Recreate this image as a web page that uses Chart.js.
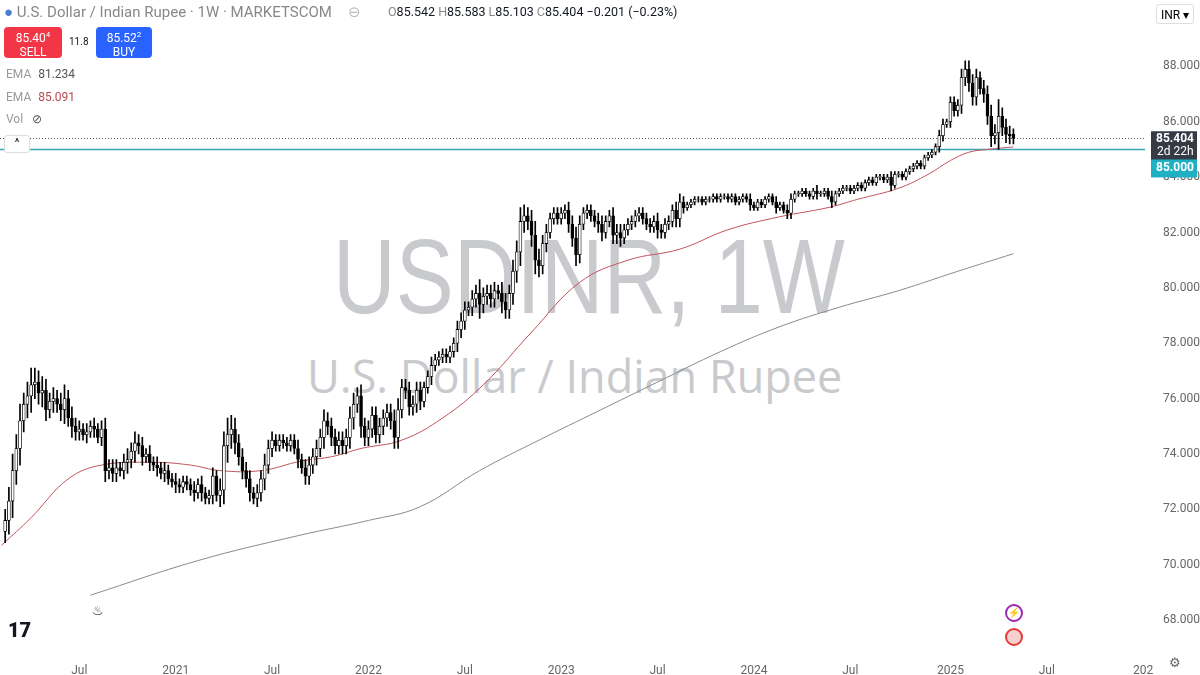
<!DOCTYPE html>
<html><head><meta charset="utf-8">
<script src="https://cdn.jsdelivr.net/npm/chart.js@4"></script>
<style>
body{margin:0;background:#fff;font-family:Roboto,"Noto Sans",sans-serif;}
#wrap{position:relative;width:1200px;height:675px;overflow:hidden;}
#c{position:absolute;left:0;top:0;}
.wm{position:absolute;color:#c9cacd;white-space:nowrap;}
.hd{position:absolute;font-size:13px;white-space:nowrap;}
.btn{position:absolute;border-radius:4px;color:#fff;text-align:center;font-size:12px;line-height:14px;}
</style></head><body>
<div id="wrap">
<div class="wm" style="left:333px;top:218px;font-size:106px;font-family:'Liberation Sans',sans-serif;line-height:1.1;transform:scaleX(0.82);transform-origin:left top;">USDINR, 1W</div>
<div class="wm" style="left:307px;top:345px;font-size:45px;font-family:'Open Sans','Noto Sans',sans-serif;">U.S. Dollar / Indian Rupee</div>
<canvas id="c" width="1200" height="675"></canvas>
<div class="hd" style="left:4px;top:3px;color:#888;font-size:15px;"><span style="color:#4a7fd0">●</span> U.S. Dollar / Indian Rupee · 1W · MARKETSCOM <span style="color:#bbb;margin-left:12px">⊖</span></div>
<div class="hd" style="left:388px;top:4px;color:#131722;font-size:12.5px;"><span style="color:#888">O</span>85.542 <span style="color:#888">H</span>85.583 <span style="color:#888">L</span>85.103 <span style="color:#888">C</span>85.404 −0.201 (−0.23%)</div>
<div class="btn" style="left:4px;top:27px;width:58px;height:30px;background:#f23645;padding-top:1px;">85.40<sup style="font-size:8px">4</sup><br>SELL</div>
<div class="hd" style="left:69px;top:36px;font-size:10px;color:#131722">11.8</div>
<div class="btn" style="left:96px;top:27px;width:56px;height:30px;background:#2962ff;padding-top:1px;">85.52<sup style="font-size:8px">2</sup><br>BUY</div>
<div class="hd" style="left:6px;top:67px;color:#999;font-size:12px;">EMA <span style="color:#555;margin-left:4px">81.234</span></div>
<div class="hd" style="left:6px;top:90px;color:#999;font-size:12px;">EMA <span style="color:#b44a52;margin-left:4px">85.091</span></div>
<div class="hd" style="left:6px;top:112px;color:#999;font-size:12px;">Vol <span style="color:#555;margin-left:6px">⊘</span></div>
<div class="hd" style="left:4px;top:135px;width:24px;height:16px;border:1px solid #ddd;border-radius:3px;text-align:center;font-size:11px;background:#fff;">^</div>
<div class="hd" style="left:1156px;top:4px;width:38px;height:20px;border:1px solid #ddd;border-radius:3px;font-size:12px;line-height:20px;padding-left:4px;box-sizing:border-box;">INR ▾</div>
<div class="hd" style="left:8px;top:618px;font-size:20px;font-weight:900;color:#131722;">17</div>
<div class="hd" style="left:92px;top:603px;font-size:13px;color:#333;">♨</div>
<div class="hd" style="left:1005px;top:604px;width:18px;height:18px;border-radius:9px;border:2px solid #9c27b0;box-sizing:border-box;font-size:10px;color:#9c27b0;text-align:center;line-height:14px;">⚡</div>
<div class="hd" style="left:1005px;top:628px;width:18px;height:18px;border-radius:9px;border:2px solid #e53935;box-sizing:border-box;background:#f5d0d0;"></div>
<div class="hd" style="left:1169px;top:655px;font-size:13px;color:#666;">⚙</div>
</div>
<script>
// weekly candles, week index 0 = first week of 2021
const firstWeek = -46;
const closes = [
71.6,72.3,73.4,74.2,75.2,75.8,76.1,76.5,76.6,76.2,
76.3,75.6,75.9,76.0,75.8,75.6,76.0,75.3,75.0,74.8,
74.9,74.7,74.8,75.0,74.9,74.6,74.9,73.4,73.5,73.3,
73.5,73.4,73.7,73.8,74.1,74.4,74.3,73.9,74.0,73.7,
73.6,73.5,73.3,73.4,73.1,73.0,72.9,72.8,73.0,72.9,
72.7,72.6,72.9,72.6,72.4,72.5,73.2,72.5,72.7,74.3,
74.7,74.9,74.4,73.9,73.4,73.1,72.6,72.4,72.6,73.1,
73.6,74.2,74.5,74.3,74.5,74.4,74.3,74.5,74.2,73.8,
73.5,73.2,73.6,73.9,74.2,74.6,75.2,75.0,74.6,74.3,
74.5,74.3,74.6,75.3,75.8,76.1,75.0,74.6,74.9,75.4,
74.7,75.0,75.3,75.5,75.2,74.6,75.6,76.4,76.3,75.7,
75.8,76.3,75.9,76.4,76.8,77.2,77.4,77.5,77.6,77.5,
77.7,78.0,78.5,78.8,79.2,79.3,79.6,79.8,79.4,79.7,
79.8,79.6,79.9,79.8,79.5,79.2,79.8,80.6,81.3,82.4,
82.6,82.4,81.9,81.0,80.8,81.6,82.0,82.5,82.7,82.5,
82.7,82.8,82.3,81.8,81.2,82.3,82.7,82.8,82.6,82.4,
82.3,82.0,82.4,82.6,81.9,82.0,81.8,82.1,82.3,82.4,
82.6,82.7,82.5,82.3,82.2,82.4,82.1,82.0,82.3,82.4,
82.8,82.5,83.1,82.9,83.0,83.1,83.2,83.2,83.1,83.2,
83.2,83.3,83.2,83.3,83.3,83.2,83.3,83.1,83.2,83.3,
83.2,83.0,82.9,83.1,83.0,83.2,83.3,83.1,82.9,83.0,
82.8,82.7,83.2,83.4,83.4,83.5,83.4,83.3,83.5,83.4,
83.4,83.5,83.3,83.1,83.4,83.5,83.6,83.6,83.5,83.6,
83.7,83.6,83.8,83.9,83.8,84.0,84.0,83.9,84.0,83.7,
84.1,84.1,84.0,84.2,84.3,84.4,84.5,84.4,84.7,84.8,
84.9,85.1,85.5,85.9,86.0,86.7,86.4,86.6,87.6,87.9,
87.4,86.9,87.6,87.2,87.0,86.2,85.5,85.6,86.2,85.8,
85.542,85.5,85.404];
const opens = [71.2].concat(closes.slice(0,-1));
opens[opens.length-1]=85.542;
const wicks = [
0.4,0.5,0.6,0.5,0.6,0.4,0.5,0.6,0.5,0.4,
0.5,0.4,0.3,0.4,0.3,0.4,0.5,0.3,0.4,0.3,
0.3,0.2,0.3,0.2,0.3,0.2,0.3,0.4,0.3,0.3,
0.3,0.2,0.3,0.4,0.3,0.4,0.3,0.3,0.2,0.3,
0.2,0.3,0.2,0.3,0.2,0.2,0.3,0.2,0.2,0.2,
0.2,0.3,0.2,0.3,0.2,0.2,0.3,0.2,0.4,0.5,
0.6,0.5,0.4,0.3,0.3,0.3,0.3,0.2,0.3,0.3,
0.4,0.3,0.3,0.2,0.2,0.2,0.2,0.2,0.2,0.3,
0.2,0.3,0.3,0.3,0.3,0.3,0.4,0.3,0.3,0.3,
0.3,0.3,0.3,0.4,0.4,0.3,0.4,0.3,0.3,0.3,
0.3,0.3,0.3,0.3,0.3,0.4,0.4,0.3,0.3,0.3,
0.3,0.3,0.3,0.2,0.2,0.3,0.2,0.2,0.2,0.2,
0.2,0.2,0.3,0.3,0.3,0.2,0.3,0.3,0.5,0.3,
0.3,0.3,0.3,0.2,0.4,0.3,0.3,0.4,0.4,0.5,
0.4,0.3,0.4,0.5,0.4,0.3,0.3,0.2,0.2,0.2,
0.2,0.2,0.3,0.3,0.4,0.3,0.2,0.2,0.2,0.2,
0.3,0.3,0.2,0.2,0.3,0.3,0.3,0.2,0.2,0.2,
0.2,0.2,0.2,0.2,0.2,0.2,0.3,0.2,0.2,0.2,
0.2,0.3,0.3,0.2,0.1,0.1,0.1,0.1,0.1,0.1,
0.1,0.1,0.1,0.1,0.1,0.1,0.1,0.1,0.1,0.1,
0.1,0.2,0.1,0.1,0.1,0.1,0.1,0.1,0.2,0.1,
0.1,0.2,0.2,0.1,0.1,0.1,0.1,0.1,0.1,0.2,
0.1,0.1,0.1,0.2,0.1,0.1,0.1,0.1,0.1,0.1,
0.1,0.1,0.1,0.1,0.1,0.1,0.1,0.1,0.1,0.2,
0.1,0.1,0.1,0.1,0.1,0.1,0.1,0.1,0.1,0.1,
0.1,0.1,0.2,0.2,0.1,0.2,0.2,0.2,0.3,0.3,
0.3,0.3,0.3,0.2,0.3,0.3,0.4,0.3,0.6,0.3,
0.3,0.3,0.2];
// EMA lines sampled (week index, value)
const emaFastWeeks = [-47,-39,-29,-20,-6,4,12,23,34,42,50,61,72,83,96,109,122,136,149,163,176,184,195,203,209,214,219,226];
const emaFastVals  = [70.7,71.7,73.1,73.6,73.7,73.6,73.4,73.4,73.75,73.9,74.2,74.5,75.3,76.5,78.4,80.2,81.0,81.4,82.1,82.57,82.9,83.2,83.6,84.1,84.6,84.9,85.0,85.091];
const emaSlowWeeks = [-23,6,33,52,66,82,98,114,130,147,163,179,195,211,226];
const emaSlowVals  = [68.9,70.15,71.05,71.6,72.1,73.4,74.5,75.55,76.6,77.7,78.6,79.3,79.9,80.6,81.234];
const yTicks = [68,70,72,74,76,78,80,82,84,86,88];
const xTickWeeks = [-26,0,26,52,78,104,130,156,182,209,235,261];
const xTickLabels = ['Jul','2021','Jul','2022','Jul','2023','Jul','2024','Jul','2025','Jul','202'];
const lastPrice = 85.404, levelLine = 85.0;

const wickData = closes.map((c,i)=>({x:firstWeek+i, y:[Math.min(opens[i],c)-wicks[i], Math.max(opens[i],c)+wicks[i]]}));
const bodyData = closes.map((c,i)=>({x:firstWeek+i, y:[opens[i], c===opens[i]?c+0.02:c]}));
const bodyBg = closes.map((c,i)=> c>=opens[i] ? '#ffffff' : '#000000');

const overlay = {
  id:'overlay',
  beforeDatasetsDraw(ch){
    const {ctx, chartArea:a, scales:{y}} = ch;
    ctx.save();
    let py = Math.round(y.getPixelForValue(lastPrice))+0.5;
    ctx.strokeStyle='#555'; ctx.setLineDash([1,2]); ctx.lineWidth=1;
    ctx.beginPath(); ctx.moveTo(0,py); ctx.lineTo(a.right,py); ctx.stroke();
    ctx.setLineDash([]);
    let ly = Math.round(y.getPixelForValue(levelLine))+0.5;
    ctx.strokeStyle='#3aa5b4'; ctx.lineWidth=1.5;
    ctx.beginPath(); ctx.moveTo(0,ly); ctx.lineTo(a.right,ly); ctx.stroke();
    ctx.restore();
  },
  afterDraw(ch){
    const {ctx, scales:{y}} = ch;
    ctx.save();
    let py = y.getPixelForValue(lastPrice);
    ctx.fillStyle='#363a45'; ctx.fillRect(1151,py-7,46,29);
    ctx.fillStyle='#fff'; ctx.font='bold 12px Roboto'; ctx.textBaseline='middle';
    ctx.fillText(lastPrice.toFixed(3),1156,py+0.5);
    ctx.font='12px Roboto'; ctx.fillText('2d 22h',1157,py+14);
    let ly = y.getPixelForValue(levelLine);
    ctx.fillStyle='#1fb0c4'; ctx.fillRect(1151,ly+10,46,18);
    ctx.fillStyle='#fff'; ctx.font='bold 12px Roboto';
    ctx.fillText(levelLine.toFixed(3),1156,ly+19);
    ctx.restore();
  }
};

new Chart(document.getElementById('c'),{
  type:'bar',
  data:{datasets:[
    {type:'line',data:emaSlowWeeks.map((w,i)=>({x:w,y:emaSlowVals[i]})),borderColor:'#8a8a8a',borderWidth:1,pointRadius:0,tension:0.4,order:3},
    {type:'line',data:emaFastWeeks.map((w,i)=>({x:w,y:emaFastVals[i]})),borderColor:'#c2545c',borderWidth:1,pointRadius:0,tension:0.4,order:3},
    {data:wickData,backgroundColor:'#000',barThickness:1,grouped:false,order:2},
    {data:bodyData,backgroundColor:bodyBg,borderColor:'#000',borderWidth:0.8,borderSkipped:false,barThickness:3,grouped:false,order:1}
  ]},
  options:{
    animation:false,responsive:false,
    plugins:{legend:{display:false},tooltip:{enabled:false}},
    scales:{
      x:{type:'linear',offset:false,min:-47.4,max:261.5,grid:{display:false},border:{display:false},
        afterBuildTicks(s){s.ticks=xTickWeeks.map(v=>({value:v}));},
        afterFit(s){s.height=27;},
        ticks:{autoSkip:false,maxRotation:0,color:'#666',font:{size:12,family:'Roboto'},padding:8,
          callback:(v)=>{const i=xTickWeeks.indexOf(v);return i>=0?xTickLabels[i]:'';}}},
      y:{position:'right',min:66.993,max:89.777,grid:{display:false},border:{display:false},
        afterBuildTicks(s){s.ticks=yTicks.map(v=>({value:v}));},
        afterFit(s){s.width=55;},
        ticks:{color:'#666',font:{size:12,family:'Roboto'},padding:10,callback:v=>v.toFixed(3)}}
    }
  },
  plugins:[overlay]
});
</script>
</body></html>
